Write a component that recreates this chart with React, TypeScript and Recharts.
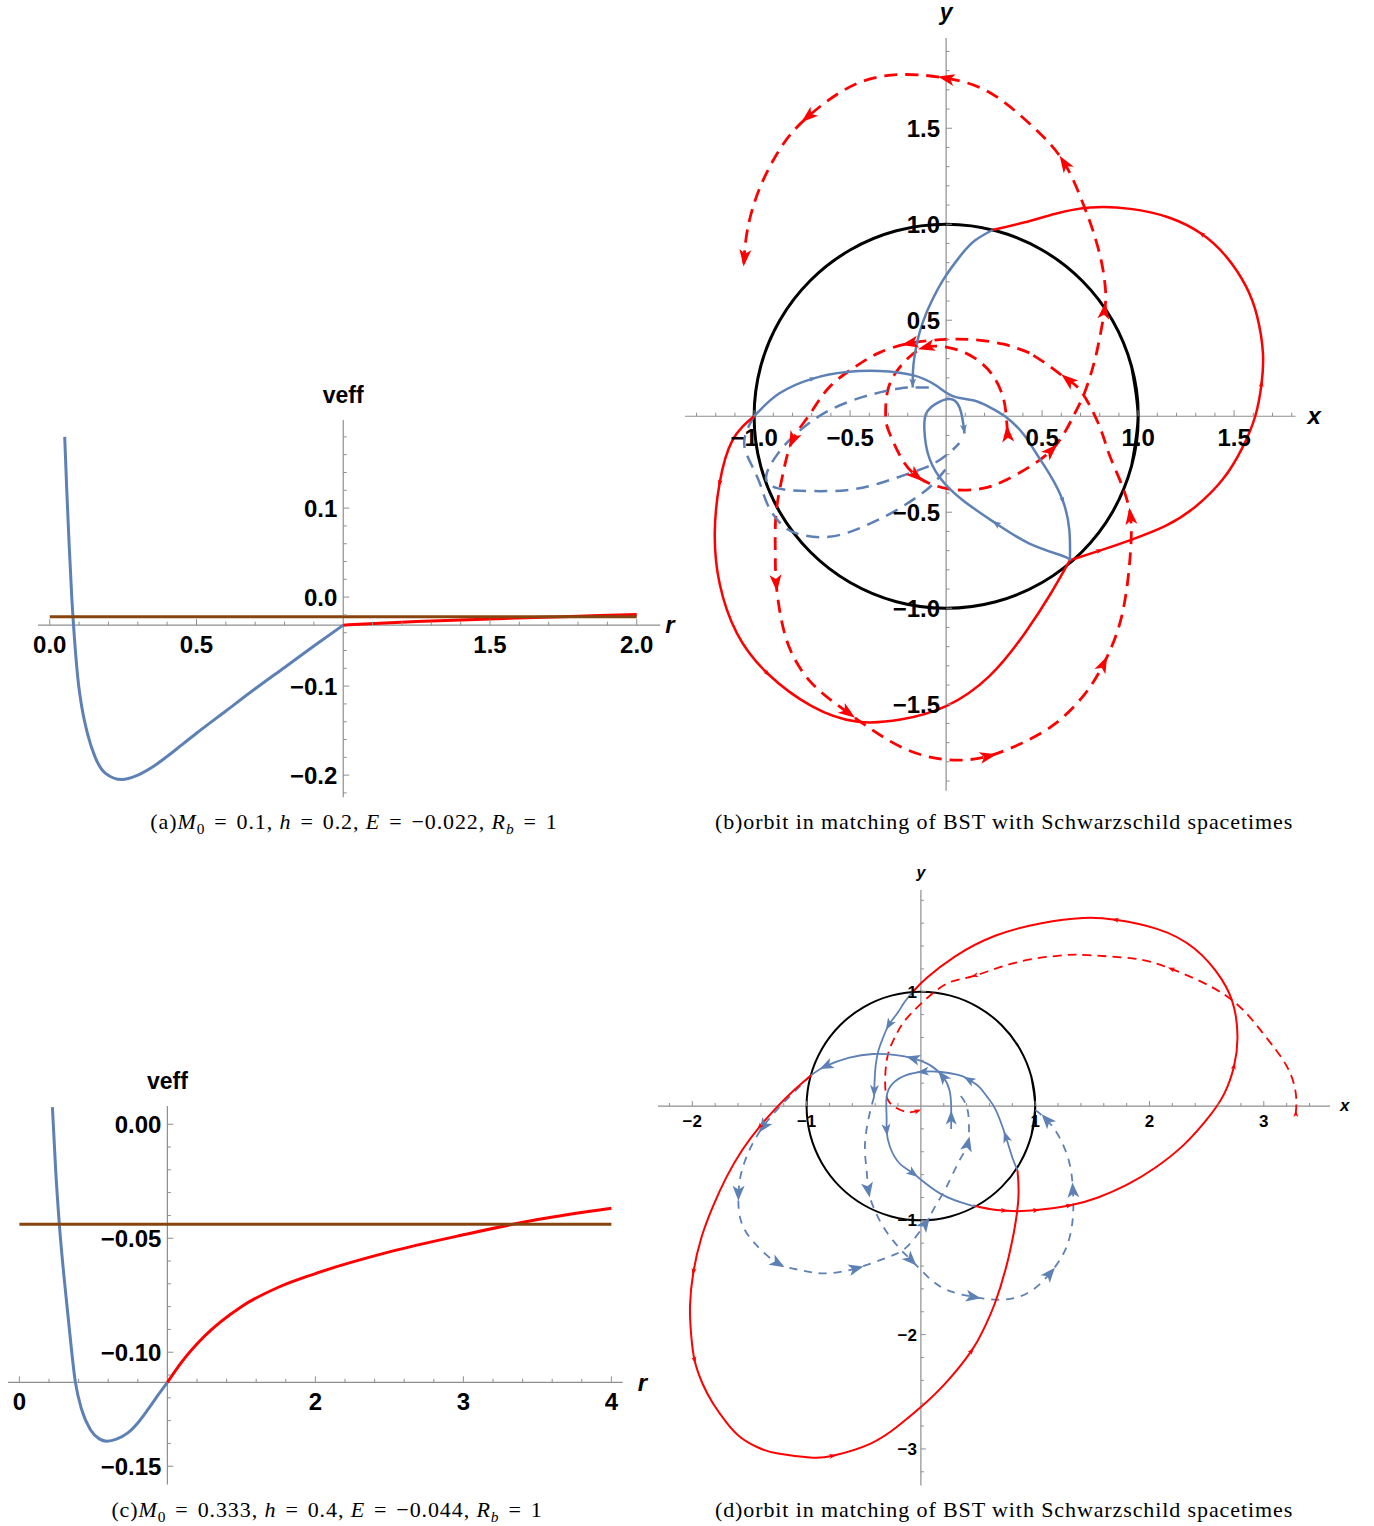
import React from 'react';
import { ComposedChart, Line, XAxis, YAxis, ReferenceLine, ReferenceDot } from 'recharts';

type Pt = [number, number];
type Row = { x: number; y: number };

const BLUE = '#5e81b5';
const RED = '#ff0000';
const BROWN = '#86450f';
const AXIS = '#8f8f8f';
const TICK_FONT = '"Liberation Sans", Arial, sans-serif';
const SERIF = '"Liberation Serif", "Times New Roman", serif';

// ---------- (a) effective potential, M0 = 0.1 ----------
const aBlueR = [0.051, 0.058, 0.066, 0.075, 0.085, 0.097, 0.11, 0.13, 0.155, 0.19, 0.245, 0.3, 0.35, 0.4, 0.45, 0.5, 0.6, 0.7, 0.8, 0.9, 1.0];
const aBlueV = [0.18, 0.12, 0.06, 0.0, -0.05, -0.095, -0.125, -0.155, -0.18, -0.198, -0.205, -0.2, -0.191, -0.179, -0.166, -0.153, -0.128, -0.103, -0.079, -0.055, -0.0315];
const aRedR = [1.0, 1.25, 1.5, 1.75, 2.0];
const aRedV = [-0.0315, -0.0275, -0.0245, -0.022, -0.0195];
const aEnergyR = [0, 2];
const aEnergyV = [-0.022, -0.022];
const aXTicks = [0, 0.5, 1.5, 2.0];
const aXLabels = ['0.0', '0.5', '1.5', '2.0'];
const aYTicks = [0.1, 0, -0.1, -0.2];
const aYLabels = ['0.1', '0.0', '−0.1', '−0.2'];

// ---------- (c) effective potential, M0 = 0.333 ----------
const cBlueR = [0.223, 0.245, 0.27, 0.3, 0.33, 0.378, 0.42, 0.48, 0.54, 0.59, 0.66, 0.73, 0.8, 0.87, 0.94, 1.0];
const cBlueV = [0.0075, -0.02, -0.044, -0.066, -0.085, -0.113, -0.125, -0.134, -0.138, -0.139, -0.138, -0.1355, -0.131, -0.125, -0.1185, -0.1132];
const cRedR = [1.0, 1.1, 1.25, 1.5, 1.75, 2.0, 2.5, 3.0, 3.5, 4.0];
const cRedV = [-0.1132, -0.104, -0.093, -0.08, -0.0715, -0.0655, -0.056, -0.0485, -0.0418, -0.0368];
const cEnergyR = [0, 4];
const cEnergyV = [-0.0439, -0.0439];
const cXTicks = [0, 2, 3, 4];
const cXLabels = ['0', '2', '3', '4'];
const cYTicks = [0, -0.05, -0.1, -0.15];
const cYLabels = ['0.00', '−0.05', '−0.10', '−0.15'];

// ---------- matching surface R_b = 1 ----------
const unitCircle: Pt[] = [
  [0.966, -0.259], [1, 0], [0.966, 0.259], [0.866, 0.5], [0.707, 0.707], [0.5, 0.866], [0.259, 0.966],
  [0, 1], [-0.259, 0.966], [-0.5, 0.866], [-0.707, 0.707], [-0.866, 0.5], [-0.966, 0.259], [-1, 0],
  [-0.966, -0.259], [-0.866, -0.5], [-0.707, -0.707], [-0.5, -0.866], [-0.259, -0.966], [0, -1],
  [0.259, -0.966], [0.5, -0.866], [0.707, -0.707], [0.866, -0.5], [0.966, -0.259], [1, 0], [0.966, 0.259],
];

// ---------- (b) orbit ----------
const bRedOut: Pt[] = [[0.645, -0.75], [0.8, -0.7], [0.96, -0.645], [1.145, -0.57], [1.3, -0.47], [1.44, -0.33], [1.54, -0.17], [1.61, 0.0], [1.643, 0.17], [1.65, 0.33], [1.62, 0.52], [1.56, 0.68], [1.46, 0.83], [1.33, 0.95], [1.16, 1.035], [0.96, 1.08], [0.753, 1.087], [0.57, 1.055], [0.41, 1.01], [0.242, 0.97]];
const bRedOutArrows = [1, 8, 13];
const bRedIn: Pt[] = [[-1.0, 0.0], [-1.113, -0.126], [-1.18, -0.35], [-1.205, -0.61], [-1.18, -0.87], [-1.09, -1.13], [-0.93, -1.34], [-0.7, -1.51], [-0.468, -1.59], [-0.237, -1.58], [0, -1.51], [0.224, -1.355], [0.41, -1.13], [0.546, -0.922], [0.645, -0.75]];
const bRedInArrows = [2, 6];
const bBlueSpiral: Pt[] = [[0.242, 0.97], [0.15, 0.915], [0.07, 0.83], [-0.017, 0.708], [-0.065, 0.62], [-0.104, 0.535], [-0.137, 0.44], [-0.156, 0.36], [-0.17, 0.27], [-0.174, 0.19], [-0.174, 0.15]];
const bBlueSpiralArrows = [10];
const bBlueArc: Pt[] = [[-1.0, 0.0], [-0.87, 0.118], [-0.694, 0.196], [-0.52, 0.23], [-0.347, 0.236], [-0.174, 0.214], [-0.052, 0.16], [0.035, 0.105], [0.14, 0.083], [0.226, 0.048], [0.31, -0.003], [0.4, -0.09], [0.47, -0.194], [0.538, -0.3], [0.608, -0.44], [0.642, -0.594], [0.645, -0.75]];
const bBlueArcArrows = [2, 14];
const bBlueLoop: Pt[] = [[0.645, -0.75], [0.608, -0.728], [0.434, -0.663], [0.26, -0.559], [0.087, -0.4375], [-0.035, -0.316], [-0.095, -0.194], [-0.113, -0.073], [-0.104, 0.014], [-0.052, 0.066], [0.017, 0.09], [0.06, 0.065], [0.078, 0.02], [0.088, -0.03], [0.096, -0.09]];
const bBlueLoopArrows = [3, 14];
const bBlueDashIn: Pt[] = [[-0.09, 0.15], [-0.174, 0.15], [-0.243, 0.144], [-0.4, 0.11], [-0.61, 0.03], [-0.78, -0.09], [-0.88, -0.2], [-0.935, -0.3], [-0.915, -0.36], [-0.82, -0.385], [-0.69, -0.39], [-0.52, -0.385], [-0.35, -0.35], [-0.17, -0.29], [-0.07, -0.25], [0.017, -0.19], [0.069, -0.14]];
const bBlueDashOut: Pt[] = [[-1.0, 0.0], [-1.04, -0.08], [-1.05, -0.16], [-1.015, -0.25], [-0.97, -0.35], [-0.93, -0.46], [-0.87, -0.55], [-0.78, -0.61], [-0.61, -0.628], [-0.434, -0.576], [-0.26, -0.49], [-0.104, -0.385], [-0.035, -0.316], [0.02, -0.25]];
const bRedDashSpiral: Pt[] = [[0.32, -0.09], [0.31, 0.03], [0.29, 0.12], [0.245, 0.21], [0.18, 0.28], [0.1, 0.33], [0.0, 0.36], [-0.104, 0.36], [-0.19, 0.31], [-0.26, 0.23], [-0.305, 0.13], [-0.315, 0.0], [-0.294, -0.09], [-0.226, -0.23], [-0.156, -0.31], [-0.087, -0.35], [0.0, -0.376], [0.087, -0.385], [0.19, -0.376], [0.295, -0.34], [0.434, -0.264], [0.548, -0.177], [0.62, -0.08], [0.67, 0.014], [0.72, 0.12], [0.76, 0.24], [0.79, 0.36], [0.825, 0.55], [0.83, 0.66], [0.81, 0.8], [0.77, 0.95], [0.72, 1.09], [0.615, 1.32], [0.45, 1.51], [0.22, 1.69], [0.0, 1.76], [-0.21, 1.78], [-0.47, 1.73], [-0.72, 1.56], [-0.86, 1.4], [-0.97, 1.19], [-1.035, 0.97], [-1.055, 0.78]];
const bRedDashSpiralArrows = [0, 7, 14, 21, 27, 32, 35, 38, 42];
const bRedDashLoop: Pt[] = [[0.434, 0.33], [0.3, 0.375], [0.15, 0.398], [0.0, 0.4], [-0.19, 0.38], [-0.35, 0.33], [-0.47, 0.26], [-0.61, 0.15], [-0.71, 0.01], [-0.8, -0.125], [-0.85, -0.3], [-0.885, -0.5], [-0.89, -0.7], [-0.885, -0.87], [-0.86, -1.05], [-0.81, -1.22], [-0.7, -1.39], [-0.51, -1.545], [-0.24, -1.72], [0.016, -1.79], [0.22, -1.77], [0.4, -1.7], [0.57, -1.6], [0.72, -1.45], [0.82, -1.29], [0.915, -1.04], [0.96, -0.71], [0.96, -0.52], [0.92, -0.37], [0.85, -0.2], [0.8, -0.055], [0.71, 0.12], [0.634, 0.19], [0.54, 0.26], [0.434, 0.33]];
const bRedDashLoopArrows = [4, 9, 13, 17, 20, 24, 27, 32];
const bXTicks = [-1, -0.5, 0.5, 1, 1.5];
const bXLabels = ['−1.0', '−0.5', '0.5', '1.0', '1.5'];
const bYTicks = [1.5, 1, 0.5, -0.5, -1, -1.5];
const bYLabels = ['1.5', '1.0', '0.5', '−0.5', '−1.0', '−1.5'];

// ---------- (d) orbit ----------
const dRedOut: Pt[] = [[0.46, -0.87], [0.6, -0.9], [0.73, -0.915], [0.85, -0.92], [1.01, -0.91], [1.3, -0.87], [1.55, -0.8], [1.8, -0.69], [2.05, -0.54], [2.3, -0.34], [2.5, -0.12], [2.65, 0.1], [2.74, 0.35], [2.77, 0.6], [2.74, 0.86], [2.63, 1.11], [2.39, 1.38], [2.065, 1.55], [1.7, 1.63], [1.418, 1.645], [1.055, 1.6], [0.65, 1.49], [0.3, 1.31], [0.05, 1.12], [-0.07, 1.0]];
const dRedOutArrows = [2, 4, 5, 12, 18];
const dRedIn: Pt[] = [[-0.96, 0.27], [-1.12, 0.13], [-1.27, -0.02], [-1.41, -0.18], [-1.56, -0.38], [-1.7, -0.62], [-1.82, -0.88], [-1.92, -1.15], [-1.99, -1.45], [-2.02, -1.75], [-2.01, -2.0], [-1.98, -2.225], [-1.91, -2.43], [-1.82, -2.6], [-1.7, -2.77], [-1.576, -2.9], [-1.42, -2.99], [-1.25, -3.04], [-0.97, -3.075], [-0.77, -3.06], [-0.444, -2.956], [-0.2, -2.8], [0, -2.634], [0.22, -2.42], [0.444, -2.14], [0.55, -1.95], [0.646, -1.73], [0.768, -1.32], [0.85, -0.85], [0.845, -0.56]];
const dRedInArrows = [3, 8, 11, 19, 24];
const dBlueSpiral: Pt[] = [[-0.07, 1.0], [-0.15, 0.9], [-0.2, 0.82], [-0.28, 0.71], [-0.33, 0.6], [-0.37, 0.49], [-0.395, 0.36], [-0.405, 0.22], [-0.41, 0.08]];
const dBlueSpiralArrows = [3, 8];
const dBlueArc: Pt[] = [[0.265, -0.2], [0.265, -0.1], [0.265, 0.0], [0.25, 0.14], [0.19, 0.26], [0.076, 0.36], [-0.07, 0.417], [-0.216, 0.446], [-0.42, 0.455], [-0.626, 0.423], [-0.83, 0.35], [-0.96, 0.27]];
const dBlueArcArrows = [1, 4, 6, 10];
const dBlueLoop: Pt[] = [[0.845, -0.56], [0.8, -0.45], [0.743, -0.268], [0.656, -0.035], [0.58, 0.08], [0.51, 0.168], [0.42, 0.23], [0.335, 0.27], [0.16, 0.3], [0.017, 0.3], [-0.128, 0.27], [-0.245, 0.198], [-0.3, 0.08], [-0.3, -0.094], [-0.3, -0.21], [-0.271, -0.356], [-0.184, -0.505], [-0.067, -0.589], [0.166, -0.764], [0.43, -0.866], [0.46, -0.87]];
const dBlueLoopArrows = [2, 6, 9, 14, 17];
const dBlueDashOut: Pt[] = [[-0.96, 0.27], [-1.1, 0.13], [-1.234, -0.006], [-1.38, -0.18], [-1.5, -0.385], [-1.57, -0.58], [-1.596, -0.763], [-1.576, -1.0], [-1.455, -1.2], [-1.25, -1.377], [-1.05, -1.436], [-0.848, -1.465], [-0.566, -1.42], [-0.283, -1.32], [-0.12, -1.23], [0.04, -1.026], [0.13, -0.87], [0.225, -0.706], [0.341, -0.47], [0.41, -0.33], [0.42, -0.15], [0.4, 0.0], [0.34, 0.1]];
const dBlueDashOutArrows = [3, 6, 9, 12, 15, 19];
const dBlueDashIn: Pt[] = [[-0.41, 0.08], [-0.46, -0.12], [-0.49, -0.356], [-0.475, -0.56], [-0.46, -0.735], [-0.417, -0.88], [-0.33, -1.055], [-0.2, -1.23], [-0.085, -1.348], [0.06, -1.494], [0.23, -1.61], [0.46, -1.67], [0.69, -1.695], [0.927, -1.64], [1.13, -1.464], [1.275, -1.23], [1.33, -0.97], [1.33, -0.735], [1.3, -0.5], [1.21, -0.27], [1.1, -0.12], [1.0, -0.035]];
const dBlueDashInArrows = [4, 8, 11, 14, 17, 20];
const dRedDash: Pt[] = [[3.28, -0.065], [3.28, 0.11], [3.2, 0.35], [2.99, 0.64], [2.67, 0.965], [2.19, 1.2], [1.86, 1.29], [1.46, 1.32], [1.257, 1.32], [0.85, 1.26], [0.47, 1.14], [0.246, 1.08], [0.044, 0.935], [-0.13, 0.76], [-0.21, 0.636], [-0.28, 0.48], [-0.31, 0.3], [-0.31, 0.14], [-0.28, 0.04], [-0.21, -0.02], [-0.13, -0.05], [-0.05, -0.05], [0.0, -0.03]];
const dRedDashArrows = [0, 5, 10, 22];
const dXTicks = [-2, -1, 1, 2, 3];
const dXLabels = ['−2', '−1', '1', '2', '3'];
const dYTicks = [1, -1, -2, -3];
const dYLabels = ['1', '−1', '−2', '−3'];

// ---------- helpers ----------
const rows = (pts: Pt[]): Row[] => pts.map(([x, y]) => ({ x, y }));
const zip = (xs: number[], ys: number[]): Row[] => xs.map((x, i) => ({ x, y: ys[i] }));
const steps = (a: number, b: number, s: number, skip: number[]) => {
  const out: number[] = [];
  for (let k = 0; a + k * s <= b + 1e-9; k++) {
    const v = Math.round((a + k * s) * 1000) / 1000;
    if (!skip.some((q) => Math.abs(q - v) < 1e-6)) out.push(v);
  }
  return out;
};

type Curve = {
  data: Row[];
  color: string;
  width: number;
  dash?: string;
  type?: 'natural' | 'monotone' | 'linear';
  arrows?: number[];
  aLen?: number;
  aHw?: number;
};

const arrowDot = (c: Curve, sx: number, sy: number) => {
  const marks = new Set(c.arrows || []);
  const len = c.aLen || 8;
  const hw = c.aHw || 3;
  const d = c.data;
  return (p: any) => {
    const i: number = p.index;
    if (!marks.has(i) || p.cx == null || p.cy == null) return <g key={`n${i}`} />;
    const a = Math.max(0, i - 1);
    const b = Math.min(d.length - 1, i + 1);
    let dx: number;
    let dy: number;
    if (Array.isArray(p.points) && p.points[a] && p.points[b]) {
      dx = p.points[b].x - p.points[a].x;
      dy = p.points[b].y - p.points[a].y;
    } else {
      dx = (d[b].x - d[a].x) * sx;
      dy = -(d[b].y - d[a].y) * sy;
    }
    const ang = (Math.atan2(dy, dx) * 180) / Math.PI;
    const shift = i === d.length - 1 ? -len / 2 : 0;
    return (
      <polygon
        key={`a${i}`}
        points={`${len / 2},0 ${-len / 2},${hw} ${-len / 4},0 ${-len / 2},${-hw}`}
        transform={`translate(${p.cx},${p.cy}) rotate(${ang}) translate(${shift},0)`}
        fill={c.color}
        stroke="none"
      />
    );
  };
};

type Spec = {
  ox: number; oy: number; sx: number; sy: number;
  xd: [number, number]; yd: [number, number];
  axisX: number; axisY: number;
  xMajor: number[]; xLabels: string[]; xMinor: number[];
  yMajor: number[]; yLabels: string[]; yMinor: number[];
  font: number; majorLen: number; minorLen: number;
  xDy: number; yDx: number; yDy: number;
  xTitle: string; yTitle: string; yTitleItalic: boolean; titleSize: number;
  xTitleDx: number; xTitleDy: number; yTitleDy: number;
  curves: Curve[];
};

const M = 50;

const txt = (x: number, y: number, s: string, anchor: 'start' | 'middle' | 'end', size: number, italic = false) => (
  <text
    x={x}
    y={y}
    textAnchor={anchor}
    fontFamily={TICK_FONT}
    fontWeight="bold"
    fontStyle={italic ? 'italic' : 'normal'}
    fontSize={size}
    fill="#000"
  >
    {s}
  </text>
);

function Panel({ s }: { s: Spec }) {
  const [x0, x1] = s.xd;
  const [y0, y1] = s.yd;
  const w = (x1 - x0) * s.sx;
  const h = (y1 - y0) * s.sy;
  const left = s.ox + x0 * s.sx - M;
  const top = s.oy - y1 * s.sy - M;

  const xTick = (len: number, label?: string) => (q: any) => (
    <g>
      <line x1={q.cx} y1={q.cy} x2={q.cx} y2={q.cy - len} stroke={AXIS} strokeWidth={1} />
      {label !== undefined && txt(q.cx, q.cy + s.xDy, label, 'middle', s.font)}
    </g>
  );
  const yTick = (len: number, label?: string) => (q: any) => (
    <g>
      <line x1={q.cx} y1={q.cy} x2={q.cx + len} y2={q.cy} stroke={AXIS} strokeWidth={1} />
      {label !== undefined && txt(q.cx - s.yDx, q.cy + s.yDy, label, 'end', s.font)}
    </g>
  );

  return (
    <div style={{ position: 'absolute', left, top }}>
      <ComposedChart width={w + 2 * M} height={h + 2 * M} margin={{ top: M, right: M, bottom: M, left: M }}>
        <XAxis type="number" dataKey="x" domain={s.xd} hide />
        <YAxis type="number" dataKey="y" domain={s.yd} hide />
        <ReferenceLine y={s.axisY} stroke={AXIS} strokeWidth={1.2} />
        <ReferenceLine x={s.axisX} stroke={AXIS} strokeWidth={1.2} />
        {s.xMinor.map((v, i) => (
          <ReferenceDot key={`xm${i}`} x={v} y={s.axisY} r={1} ifOverflow="visible" shape={xTick(s.minorLen)} />
        ))}
        {s.xMajor.map((v, i) => (
          <ReferenceDot key={`xM${i}`} x={v} y={s.axisY} r={1} ifOverflow="visible" shape={xTick(s.majorLen, s.xLabels[i])} />
        ))}
        {s.yMinor.map((v, i) => (
          <ReferenceDot key={`ym${i}`} x={s.axisX} y={v} r={1} ifOverflow="visible" shape={yTick(s.minorLen)} />
        ))}
        {s.yMajor.map((v, i) => (
          <ReferenceDot key={`yM${i}`} x={s.axisX} y={v} r={1} ifOverflow="visible" shape={yTick(s.majorLen, s.yLabels[i])} />
        ))}
        {s.curves.map((c, i) => (
          <Line
            key={`c${i}`}
            data={c.data}
            dataKey="y"
            type={c.type || 'natural'}
            stroke={c.color}
            strokeWidth={c.width}
            strokeDasharray={c.dash}
            dot={c.arrows ? arrowDot(c, s.sx, s.sy) : false}
            activeDot={false}
            isAnimationActive={false}
            legendType="none"
          />
        ))}
        <ReferenceDot
          x={s.axisX}
          y={y1}
          r={1}
          ifOverflow="visible"
          shape={(q: any) => txt(q.cx, q.cy + s.yTitleDy, s.yTitle, 'middle', s.titleSize, s.yTitleItalic)}
        />
        <ReferenceDot
          x={x1}
          y={s.axisY}
          r={1}
          ifOverflow="visible"
          shape={(q: any) => txt(q.cx + s.xTitleDx, q.cy + s.xTitleDy, s.xTitle, 'start', s.titleSize + 1, true)}
        />
      </ComposedChart>
    </div>
  );
}

const panelA: Spec = {
  ox: 50, oy: 597, sx: 293.5, sy: 890,
  xd: [-0.04, 2.08], yd: [-0.225, 0.199],
  axisX: 1, axisY: -0.0315,
  xMajor: aXTicks, xLabels: aXLabels, xMinor: steps(0.1, 1.9, 0.1, [...aXTicks, 1]),
  yMajor: aYTicks, yLabels: aYLabels, yMinor: steps(-0.22, 0.18, 0.02, aYTicks),
  font: 24, majorLen: 6, minorLen: 3.5, xDy: 28, yDx: 6, yDy: 9,
  xTitle: 'r', yTitle: 'veff', yTitleItalic: false, titleSize: 23,
  xTitleDx: 5, xTitleDy: 8, yTitleDy: -17,
  curves: [
    { data: zip(aBlueR, aBlueV), color: BLUE, width: 3, type: 'monotone' },
    { data: zip(aRedR, aRedV), color: RED, width: 3, type: 'monotone' },
    { data: zip(aEnergyR, aEnergyV), color: BROWN, width: 3, type: 'linear' },
  ],
};

const panelC: Spec = {
  ox: 19, oy: 1124, sx: 148, sy: 2280,
  xd: [-0.077, 4.077], yd: [-0.158, 0.008],
  axisX: 1, axisY: -0.1132,
  xMajor: cXTicks, xLabels: cXLabels, xMinor: steps(0.2, 3.8, 0.2, [1, 2, 3]),
  yMajor: cYTicks, yLabels: cYLabels, yMinor: steps(-0.15, 0, 0.01, cYTicks),
  font: 24, majorLen: 6, minorLen: 3.5, xDy: 28, yDx: 6, yDy: 9,
  xTitle: 'r', yTitle: 'veff', yTitleItalic: false, titleSize: 23,
  xTitleDx: 15, xTitleDy: 9, yTitleDy: -17,
  curves: [
    { data: zip(cBlueR, cBlueV), color: BLUE, width: 3, type: 'monotone' },
    { data: zip(cRedR, cRedV), color: RED, width: 3, type: 'monotone' },
    { data: zip(cEnergyR, cEnergyV), color: BROWN, width: 3, type: 'linear' },
  ],
};

const panelB: Spec = {
  ox: 946.5, oy: 416, sx: 192, sy: 192,
  xd: [-1.36, 1.82], yd: [-1.95, 1.97],
  axisX: 0, axisY: 0,
  xMajor: bXTicks, xLabels: bXLabels, xMinor: steps(-1.3, 1.8, 0.1, [...bXTicks, 0]),
  yMajor: bYTicks, yLabels: bYLabels, yMinor: steps(-1.9, 1.9, 0.1, [...bYTicks, 0]),
  font: 24, majorLen: 6, minorLen: 3.5, xDy: 30, yDx: 6, yDy: 9,
  xTitle: 'x', yTitle: 'y', yTitleItalic: true, titleSize: 23,
  xTitleDx: 12, xTitleDy: 8, yTitleDy: -18,
  curves: [
    { data: rows(unitCircle), color: '#000', width: 3 },
    { data: rows(bRedDashLoop), color: RED, width: 2.8, dash: '13 8', arrows: bRedDashLoopArrows, aLen: 17, aHw: 6 },
    { data: rows(bRedDashSpiral), color: RED, width: 2.8, dash: '13 8', arrows: bRedDashSpiralArrows, aLen: 17, aHw: 6 },
    { data: rows(bBlueDashIn), color: BLUE, width: 2.5, dash: '13 8' },
    { data: rows(bBlueDashOut), color: BLUE, width: 2.5, dash: '13 8' },
    { data: rows(bRedOut), color: RED, width: 2.5, arrows: bRedOutArrows, aLen: 7, aHw: 2.5 },
    { data: rows(bRedIn), color: RED, width: 2.5, arrows: bRedInArrows, aLen: 7, aHw: 2.5 },
    { data: rows(bBlueArc), color: BLUE, width: 2.5, arrows: bBlueArcArrows, aLen: 7, aHw: 2.5 },
    { data: rows(bBlueLoop), color: BLUE, width: 2.5, arrows: bBlueLoopArrows, aLen: 9, aHw: 3.5 },
    { data: rows(bBlueSpiral), color: BLUE, width: 2.5, arrows: bBlueSpiralArrows, aLen: 9, aHw: 3.5 },
  ],
};

const panelD: Spec = {
  ox: 921, oy: 1106, sx: 114.3, sy: 114.3,
  xd: [-2.3, 3.58], yd: [-3.32, 1.89],
  axisX: 0, axisY: 0,
  xMajor: dXTicks, xLabels: dXLabels, xMinor: steps(-2.2, 3.4, 0.2, [...dXTicks, 0]),
  yMajor: dYTicks, yLabels: dYLabels, yMinor: steps(-3.2, 1.8, 0.2, [...dYTicks, 0]),
  font: 17, majorLen: 5, minorLen: 3, xDy: 21, yDx: 4, yDy: 6,
  xTitle: 'x', yTitle: 'y', yTitleItalic: true, titleSize: 16,
  xTitleDx: 10, xTitleDy: 5, yTitleDy: -12,
  curves: [
    { data: rows(unitCircle), color: '#000', width: 2 },
    { data: rows(dRedDash), color: RED, width: 1.8, dash: '9 6', arrows: dRedDashArrows, aLen: 7, aHw: 2.5 },
    { data: rows(dBlueDashOut), color: BLUE, width: 1.8, dash: '8 7', arrows: dBlueDashOutArrows, aLen: 15, aHw: 6 },
    { data: rows(dBlueDashIn), color: BLUE, width: 1.8, dash: '8 7', arrows: dBlueDashInArrows, aLen: 15, aHw: 6 },
    { data: rows(dRedOut), color: RED, width: 2, arrows: dRedOutArrows, aLen: 7, aHw: 2.5 },
    { data: rows(dRedIn), color: RED, width: 2, arrows: dRedInArrows, aLen: 7, aHw: 2.5 },
    { data: rows(dBlueArc), color: BLUE, width: 1.8, arrows: dBlueArcArrows, aLen: 14, aHw: 5.5 },
    { data: rows(dBlueLoop), color: BLUE, width: 1.8, arrows: dBlueLoopArrows, aLen: 12, aHw: 4.5 },
    { data: rows(dBlueSpiral), color: BLUE, width: 1.8, arrows: dBlueSpiralArrows, aLen: 12, aHw: 4.5 },
  ],
};

const I = ({ children }: { children: React.ReactNode }) => <span style={{ fontStyle: 'italic' }}>{children}</span>;
const Sub = ({ children }: { children: React.ReactNode }) => (
  <span style={{ fontSize: '0.7em', position: 'relative', top: '0.3em' }}>{children}</span>
);
const Eq = () => <span style={{ margin: '0 9px' }}>=</span>;

function Caption({ cx, cy, children }: { cx: number; cy: number; children: React.ReactNode }) {
  return (
    <div
      style={{
        position: 'absolute',
        left: cx - 400,
        width: 800,
        top: cy - 13,
        lineHeight: '26px',
        textAlign: 'center',
        fontFamily: SERIF,
        fontSize: 22,
        letterSpacing: '0.9px',
        whiteSpace: 'nowrap',
        color: '#000',
      }}
    >
      {children}
    </div>
  );
}

export default function App() {
  return (
    <div style={{ position: 'absolute', left: 0, top: 0, width: 1374, height: 1526, background: '#fff', overflow: 'hidden' }}>
      <Panel s={panelA} />
      <Panel s={panelB} />
      <Panel s={panelC} />
      <Panel s={panelD} />
      <Caption cx={354} cy={822}>
        (a)<I>M</I><Sub>0</Sub><Eq />0.1, <I>h</I><Eq />0.2, <I>E</I><Eq />−0.022, <I>R</I><Sub><I>b</I></Sub><Eq />1
      </Caption>
      <Caption cx={1004} cy={822}>(b)orbit in matching of BST with Schwarzschild spacetimes</Caption>
      <Caption cx={327} cy={1510}>
        (c)<I>M</I><Sub>0</Sub><Eq />0.333, <I>h</I><Eq />0.4, <I>E</I><Eq />−0.044, <I>R</I><Sub><I>b</I></Sub><Eq />1
      </Caption>
      <Caption cx={1004} cy={1510}>(d)orbit in matching of BST with Schwarzschild spacetimes</Caption>
    </div>
  );
}
